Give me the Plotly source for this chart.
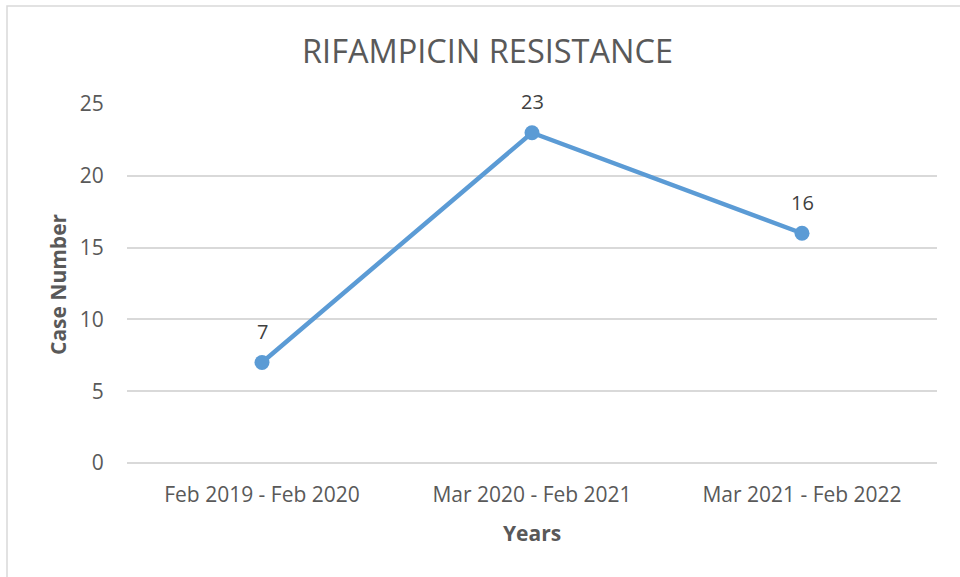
import plotly.graph_objects as go

categories = ["Feb 2019 - Feb 2020", "Mar 2020 - Feb 2021", "Mar 2021 - Feb 2022"]
case_numbers = [7, 23, 16]
y_ticks = [0, 5, 10, 15, 20, 25]

W, H = 960, 577
L, R, T, B = 127, 23, 104, 114
pw, ph = W - L - R, H - T - B

def px(xp):
    return (xp - L) / pw

def py(yp):
    return (H - B - yp) / ph

FONT = "Open Sans"
GRAY = "#595959"
BLUE = "#5B9BD5"

fig = go.Figure()
fig.add_trace(go.Scatter(
    x=categories, y=case_numbers, mode="lines+markers",
    line=dict(color=BLUE, width=4.5),
    marker=dict(color=BLUE, size=15),
    hoverinfo="skip", showlegend=False,
))

annotations = []
for c, v in zip(categories, case_numbers):
    annotations.append(dict(
        x=c, y=v, xref="x", yref="y", text=str(v), showarrow=False,
        yshift=31, font=dict(family=FONT, size=20, color="#404040"),
    ))
annotations.append(dict(
    x=px(487), y=py(50), xref="paper", yref="paper", text="RIFAMPICIN RESISTANCE",
    showarrow=False, xanchor="center", yanchor="middle",
    font=dict(family=FONT, size=32.5, color=GRAY),
))
annotations.append(dict(
    x=px(58), y=py(284), xref="paper", yref="paper", text="<b>Case Number</b>",
    showarrow=False, xanchor="center", yanchor="middle", textangle=-90,
    font=dict(family=FONT, size=21, color=GRAY),
))
annotations.append(dict(
    x=px(532), y=py(533), xref="paper", yref="paper", text="<b>Years</b>",
    showarrow=False, xanchor="center", yanchor="middle",
    font=dict(family=FONT, size=21, color=GRAY),
))

fig.update_layout(
    width=W, height=H,
    margin=dict(l=L, r=R, t=T, b=B, autoexpand=False),
    paper_bgcolor="white", plot_bgcolor="white",
    annotations=annotations,
    shapes=[dict(
        type="rect", xref="paper", yref="paper",
        x0=px(7), x1=px(980), y0=py(6), y1=py(600),
        line=dict(color="#d9d9d9", width=1.5), fillcolor="rgba(0,0,0,0)", layer="below",
    )],
    xaxis=dict(
        type="category", range=[-0.5, 2.5], showgrid=False, zeroline=False,
        showline=False, ticks="outside", ticklen=13, tickcolor="rgba(0,0,0,0)",
        tickfont=dict(family=FONT, size=21, color=GRAY), fixedrange=True,
    ),
    yaxis=dict(
        range=[0, 25], tickvals=y_ticks, showgrid=True, gridcolor="#d9d9d9", gridwidth=1.5,
        zeroline=True, zerolinecolor="#d9d9d9", zerolinewidth=1.5, showline=False,
        ticks="outside", ticklen=18, tickcolor="rgba(0,0,0,0)",
        tickfont=dict(family=FONT, size=21, color=GRAY), fixedrange=True,
    ),
)

fig.write_html("out.html")
